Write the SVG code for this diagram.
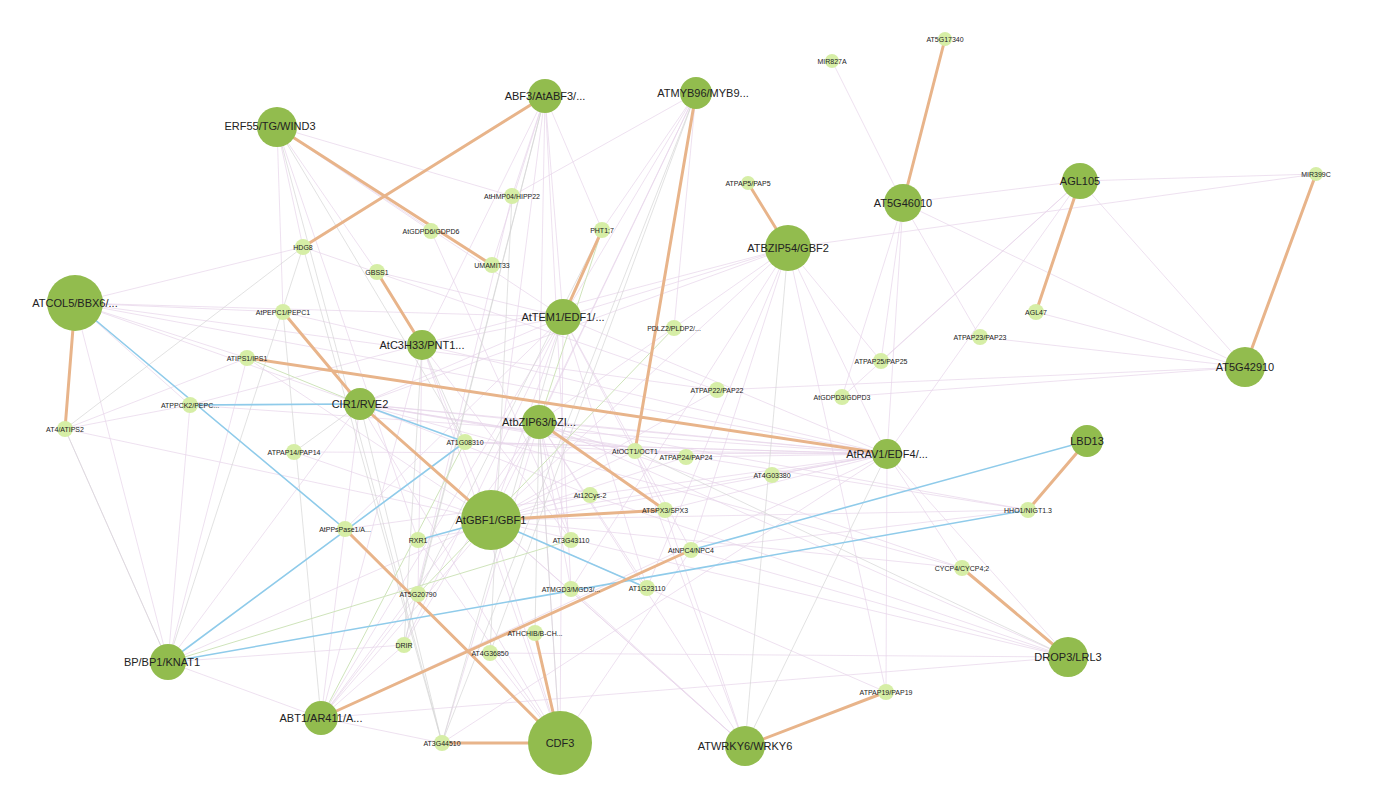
<svg xmlns="http://www.w3.org/2000/svg" width="1377" height="807" viewBox="0 0 1377 807">
<style>
text{font-family:"Liberation Sans",Arial,sans-serif;fill:#222;text-anchor:middle;dominant-baseline:central}
.b circle{fill:#92bc4e}.s circle{fill:#d6eea6}
.b text{font-size:11px}.s text{font-size:7px}
.t{stroke:#e6d4ea;stroke-width:0.7;fill:none}
.g{stroke:#d6d6d6;stroke-width:0.7;fill:none}
.o{stroke:#e8b48a;stroke-width:3;fill:none}
.bl{stroke:#8fcbea;stroke-width:1.6;fill:none}
.gr{stroke:#cfe4bb;stroke-width:1;fill:none}
</style>
<rect width="1377" height="807" fill="#fff"/>
<g id="connectors">
<path class="t" d="M277,127L303,247M277,127L377,272M277,127L431,231M277,127L283,312M277,127L563,317M277,127L418,540M277,127L512,196M545,96L512,196M545,96L492,265M545,96L563,317M545,96L491,520M545,96L539,422M545,96L422,345M545,96L602,230M545,96L571,589M696,93L602,230M696,93L563,317M696,93L539,422M696,93L491,520M696,93L512,196M696,93L674,328M75,303L303,247M75,303L283,312M75,303L247,358M75,303L563,317M75,303L360,404M75,303L887,454M75,303L168,662M75,303L190,405M563,317L491,520M563,317L422,345M563,317L360,404M563,317L665,510M563,317L691,550M563,317L887,454M563,317L788,248M563,317L647,588M563,317L560,743M563,317L321,718M563,317L404,645M563,317L345,529M788,248L491,520M788,248L887,454M788,248L691,550M788,248L881,361M788,248L539,422M788,248L571,589M788,248L360,404M788,248L647,588M788,248L190,405M903,203L832,61M903,203L1080,181M903,203L980,337M903,203L881,361M903,203L842,397M903,203L1245,367M903,203L887,454M1080,181L1316,174M1080,181L1245,367M1080,181L881,361M1080,181L842,397M1080,181L887,454M1245,367L980,337M1245,367L1036,312M1245,367L717,390M1245,367L842,397M887,454L635,451M887,454L686,457M887,454L772,475M887,454L491,520M887,454L539,422M887,454L360,404M887,454L886,692M887,454L962,568M887,454L1068,657M887,454L465,442M887,454L665,510M887,454L321,718M1068,657L491,520M1068,657L691,550M1068,657L539,422M1068,657L321,718M1068,657L490,653M1068,657L590,495M168,662L65,429M168,662L247,358M168,662L360,404M168,662L491,520M168,662L321,718M168,662L404,645M168,662L190,405M321,718L360,404M321,718L491,520M321,718L418,594M321,718L442,743M321,718L404,645M321,718L539,422M321,718L422,345M560,743L539,422M560,743L491,520M560,743L422,345M560,743L490,653M560,743L360,404M560,743L691,550M560,743L418,540M745,746L539,422M745,746L491,520M745,746L635,451M745,746L571,589M745,746L665,510M745,746L360,404M360,404L491,520M360,404L539,422M360,404L635,451M360,404L686,457M360,404L590,495M422,345L491,520M422,345L571,540M422,345L418,594M539,422L571,540M539,422L571,589M539,422L647,588M539,422L404,645M65,429L190,405M65,429L247,358M65,429L491,520M491,520L635,451M491,520L686,457M491,520L590,495M491,520L717,390M491,520L1028,510M491,520L962,568M360,404L1028,510M75,303L717,390M283,312L887,454M303,247L717,390M377,272L563,317M431,231L571,540M512,196L404,645M465,442L635,451M465,442L887,454M294,452L887,454M294,452L491,520M190,405L887,454M247,358L491,520M345,529L887,454M418,540L887,454M442,743L887,454M442,743L539,422M886,692L491,520M886,692L788,248M962,568L539,422M962,568L360,404M1028,510L539,422M1028,510L691,550M1316,174L788,248"/>
<path class="g" d="M277,127L465,442M277,127L442,743M545,96L404,645M545,96L418,594M696,93L490,653M696,93L442,743M303,247L442,743M512,196L490,653M563,317L442,743M360,404L442,743M539,422L535,633M539,422L560,743M422,345L404,645M422,345L465,442M360,404L294,452M190,405L360,404M65,429L168,662M283,312L321,718M602,230L418,594M788,248L745,746M887,454L745,746M635,451L1068,657M65,429L303,247M303,247L168,662"/>
<path class="gr" d="M465,442L321,718M674,328L418,594M571,540L168,662M602,230L539,422M247,358L360,404"/>
<path class="bl" d="M75,303L345,529M190,405L360,404M360,404L465,442M168,662L465,442M418,540L491,520M491,520L647,588M168,662L1028,510M691,550L1087,441"/>
<path class="o" d="M277,127L492,265M545,96L303,247M696,93L635,451M602,230L563,317M377,272L422,345M283,312L360,404M360,404L491,520M247,358L887,454M539,422L665,510M491,520L665,510M345,529L560,743M535,633L560,743M442,743L560,743M321,718L691,550M1087,441L1028,510M1080,181L1036,312"/>
<path class="o" stroke-width="4" d="M748,183L788,248M945,39L903,203M1316,174L1245,367M75,303L65,429M962,568L1068,657M745,746L886,692"/>
</g>
<g id="n-erf55" class="b"><circle cx="277" cy="127" r="20"/><text x="270" y="126">ERF55/TG/WIND3</text></g>
<g id="n-abf3" class="b"><circle cx="545" cy="96" r="17"/><text x="545" y="96">ABF3/AtABF3/...</text></g>
<g id="n-atmyb96" class="b"><circle cx="696" cy="93" r="16"/><text x="703" y="93">ATMYB96/MYB9...</text></g>
<g id="n-atcol5" class="b"><circle cx="75" cy="303" r="28"/><text x="75" y="303">ATCOL5/BBX6/...</text></g>
<g id="n-attem1" class="b"><circle cx="563" cy="317" r="18"/><text x="563" y="317">AtTEM1/EDF1/...</text></g>
<g id="n-atc3h33" class="b"><circle cx="422" cy="345" r="15"/><text x="422" y="345">AtC3H33/PNT1...</text></g>
<g id="n-cir1" class="b"><circle cx="360" cy="404" r="16"/><text x="360" y="404">CIR1/RVE2</text></g>
<g id="n-atbzip63" class="b"><circle cx="539" cy="422" r="17"/><text x="539" y="422">AtbZIP63/bZI...</text></g>
<g id="n-atgbf1" class="b"><circle cx="491" cy="520" r="30"/><text x="491" y="520">AtGBF1/GBF1</text></g>
<g id="n-atbzip54" class="b"><circle cx="788" cy="248" r="23"/><text x="788" y="248">ATBZIP54/GBF2</text></g>
<g id="n-at5g46010" class="b"><circle cx="903" cy="203" r="19"/><text x="903" y="203">AT5G46010</text></g>
<g id="n-agl105" class="b"><circle cx="1080" cy="181" r="18"/><text x="1080" y="181">AGL105</text></g>
<g id="n-at5g42910" class="b"><circle cx="1245" cy="367" r="20"/><text x="1245" y="367">AT5G42910</text></g>
<g id="n-atrav1" class="b"><circle cx="887" cy="454" r="15"/><text x="887" y="454">AtRAV1/EDF4/...</text></g>
<g id="n-lbd13" class="b"><circle cx="1087" cy="441" r="16"/><text x="1087" y="441">LBD13</text></g>
<g id="n-drop3" class="b"><circle cx="1068" cy="657" r="20"/><text x="1068" y="657">DROP3/LRL3</text></g>
<g id="n-bp" class="b"><circle cx="168" cy="662" r="18"/><text x="162" y="662">BP/BP1/KNAT1</text></g>
<g id="n-abt1" class="b"><circle cx="321" cy="718" r="17"/><text x="321" y="718">ABT1/AR411/A...</text></g>
<g id="n-cdf3" class="b"><circle cx="560" cy="743" r="32"/><text x="560" y="743">CDF3</text></g>
<g id="n-atwrky6" class="b"><circle cx="745" cy="746" r="20"/><text x="745" y="746">ATWRKY6/WRKY6</text></g>
<g id="n-at5g17340" class="s"><circle cx="945" cy="39" r="7"/><text x="945" y="39">AT5G17340</text></g>
<g id="n-mir827a" class="s"><circle cx="832" cy="61" r="7"/><text x="832" y="61">MIR827A</text></g>
<g id="n-mir399c" class="s"><circle cx="1316" cy="174" r="7"/><text x="1316" y="174">MIR399C</text></g>
<g id="n-athmp04" class="s"><circle cx="512" cy="196" r="8"/><text x="512" y="196">AtHMP04/HIPP22</text></g>
<g id="n-atpap5" class="s"><circle cx="748" cy="183" r="7"/><text x="748" y="183">ATPAP5/PAP5</text></g>
<g id="n-hdg8" class="s"><circle cx="303" cy="247" r="8"/><text x="303" y="247">HDG8</text></g>
<g id="n-atgdpd6" class="s"><circle cx="431" cy="231" r="8"/><text x="431" y="231">AtGDPD6/GDPD6</text></g>
<g id="n-umamit33" class="s"><circle cx="492" cy="265" r="8"/><text x="492" y="265">UMAMIT33</text></g>
<g id="n-pht17" class="s"><circle cx="602" cy="230" r="8"/><text x="602" y="230">PHT1;7</text></g>
<g id="n-gbss1" class="s"><circle cx="377" cy="272" r="8"/><text x="377" y="272">GBSS1</text></g>
<g id="n-atpepc1" class="s"><circle cx="283" cy="312" r="8"/><text x="283" y="312">AtPEPC1/PEPC1</text></g>
<g id="n-pdlz2" class="s"><circle cx="674" cy="328" r="8"/><text x="674" y="328">PDLZ2/PLDP2/...</text></g>
<g id="n-agl47" class="s"><circle cx="1036" cy="312" r="8"/><text x="1036" y="312">AGL47</text></g>
<g id="n-atpap23" class="s"><circle cx="980" cy="337" r="8"/><text x="980" y="337">ATPAP23/PAP23</text></g>
<g id="n-atpap25" class="s"><circle cx="881" cy="361" r="8"/><text x="881" y="361">ATPAP25/PAP25</text></g>
<g id="n-atips1" class="s"><circle cx="247" cy="358" r="8"/><text x="247" y="358">ATIPS1/IPS1</text></g>
<g id="n-atpap22" class="s"><circle cx="717" cy="390" r="8"/><text x="717" y="390">ATPAP22/PAP22</text></g>
<g id="n-atgdpd3" class="s"><circle cx="842" cy="397" r="8"/><text x="842" y="397">AtGDPD3/GDPD3</text></g>
<g id="n-atppck2" class="s"><circle cx="190" cy="405" r="8"/><text x="190" y="405">ATPPCK2/PEPC...</text></g>
<g id="n-at4atips2" class="s"><circle cx="65" cy="429" r="8"/><text x="65" y="429">AT4/ATIPS2</text></g>
<g id="n-at1g08310" class="s"><circle cx="465" cy="442" r="8"/><text x="465" y="442">AT1G08310</text></g>
<g id="n-atoct1" class="s"><circle cx="635" cy="451" r="8"/><text x="635" y="451">AtOCT1/OCT1</text></g>
<g id="n-atpap24" class="s"><circle cx="686" cy="457" r="8"/><text x="686" y="457">ATPAP24/PAP24</text></g>
<g id="n-atpap14" class="s"><circle cx="294" cy="452" r="8"/><text x="294" y="452">ATPAP14/PAP14</text></g>
<g id="n-at4g03380" class="s"><circle cx="772" cy="475" r="8"/><text x="772" y="475">AT4G03380</text></g>
<g id="n-at12cys2" class="s"><circle cx="590" cy="495" r="8"/><text x="590" y="495">At12Cys-2</text></g>
<g id="n-atspx3" class="s"><circle cx="665" cy="510" r="8"/><text x="665" y="510">ATSPX3/SPX3</text></g>
<g id="n-hho1" class="s"><circle cx="1028" cy="510" r="8"/><text x="1028" y="510">HHO1/NIGT1.3</text></g>
<g id="n-atppspase1" class="s"><circle cx="345" cy="529" r="8"/><text x="345" y="529">AtPPsPase1/A...</text></g>
<g id="n-rxr1" class="s"><circle cx="418" cy="540" r="8"/><text x="418" y="540">RXR1</text></g>
<g id="n-at3g43110" class="s"><circle cx="571" cy="540" r="8"/><text x="571" y="540">AT3G43110</text></g>
<g id="n-atnpc4" class="s"><circle cx="691" cy="550" r="8"/><text x="691" y="550">AtNPC4/NPC4</text></g>
<g id="n-cycp4" class="s"><circle cx="962" cy="568" r="8"/><text x="962" y="568">CYCP4/CYCP4;2</text></g>
<g id="n-at5g20790" class="s"><circle cx="418" cy="594" r="8"/><text x="418" y="594">AT5G20790</text></g>
<g id="n-atmgd3" class="s"><circle cx="571" cy="589" r="8"/><text x="571" y="589">ATMGD3/MGD3/...</text></g>
<g id="n-at1g23110" class="s"><circle cx="647" cy="588" r="8"/><text x="647" y="588">AT1G23110</text></g>
<g id="n-athchib" class="s"><circle cx="535" cy="633" r="8"/><text x="535" y="633">ATHCHIB/B-CH...</text></g>
<g id="n-drir" class="s"><circle cx="404" cy="645" r="8"/><text x="404" y="645">DRIR</text></g>
<g id="n-at4g36850" class="s"><circle cx="490" cy="653" r="8"/><text x="490" y="653">AT4G36850</text></g>
<g id="n-atpap19" class="s"><circle cx="886" cy="692" r="8"/><text x="886" y="692">ATPAP19/PAP19</text></g>
<g id="n-at3g44510" class="s"><circle cx="442" cy="743" r="8"/><text x="442" y="743">AT3G44510</text></g>
</svg>
